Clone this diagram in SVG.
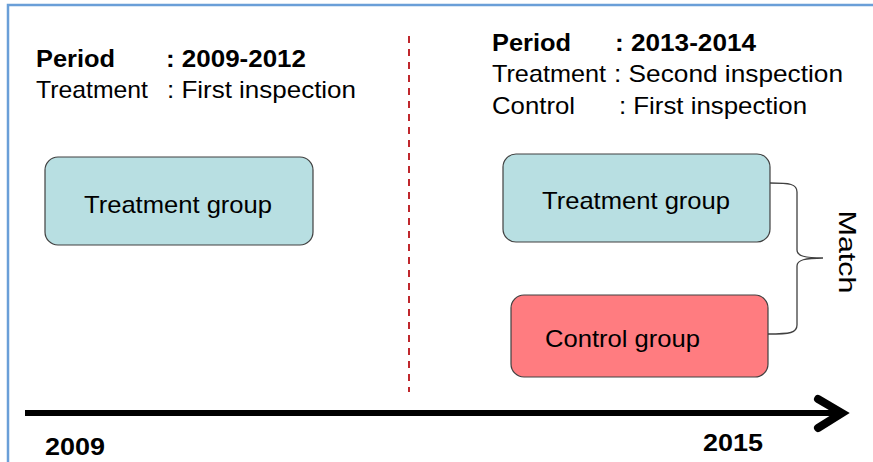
<svg xmlns="http://www.w3.org/2000/svg" width="873" height="462" viewBox="0 0 873 462">
<style>
text{font-family:"Liberation Sans",Arial,sans-serif;fill:#000}
.t{font-size:24px}
.b{font-size:24px;font-weight:bold}
.box{stroke:#404040;stroke-width:1.2}
.tg{fill:#b8dfe2}
.cg{fill:#ff7c80}
.lbl{font-size:24px}
</style>
<rect x="0" y="0" width="873" height="462" fill="#fff"/>
<g id="frame">
<path d="M8,462 V5 H873" fill="none" stroke="#6a9fd8" stroke-width="2.5"/>
</g>
<g id="left-header">
<text class="b" x="36" y="67" textLength="79" lengthAdjust="spacingAndGlyphs">Period</text>
<text class="b" x="166" y="67" textLength="140" lengthAdjust="spacingAndGlyphs">: 2009-2012</text>
<text class="t" x="36" y="98" textLength="112" lengthAdjust="spacingAndGlyphs">Treatment</text>
<text class="t" x="167" y="98" textLength="189" lengthAdjust="spacingAndGlyphs">: First inspection</text>
</g>
<g id="right-header">
<text class="b" x="492" y="51" textLength="79" lengthAdjust="spacingAndGlyphs">Period</text>
<text class="b" x="615" y="51" textLength="141" lengthAdjust="spacingAndGlyphs">: 2013-2014</text>
<text class="t" x="492" y="82" textLength="114" lengthAdjust="spacingAndGlyphs">Treatment</text>
<text class="t" x="614" y="82" textLength="229" lengthAdjust="spacingAndGlyphs">: Second inspection</text>
<text class="t" x="492" y="114" textLength="83" lengthAdjust="spacingAndGlyphs">Control</text>
<text class="t" x="619" y="114" textLength="188" lengthAdjust="spacingAndGlyphs">: First inspection</text>
</g>
<g id="connectors">
<line x1="409" y1="36" x2="409" y2="392" stroke="#c0282d" stroke-width="2" stroke-dasharray="7,6"/>
<path d="M770,183 C790,183 797,184 797,192 V250 C797,256 805,258 823,258 C805,258 797,260 797,266 V325 C797,333 790,334 768,334" fill="none" stroke="#404040" stroke-width="1.3"/>
<line x1="25" y1="413" x2="838" y2="413" stroke="#000" stroke-width="6"/>
<path d="M818,399 L842,413 L818,428" fill="none" stroke="#000" stroke-width="8" stroke-linecap="round" stroke-linejoin="miter"/>
</g>
<g id="treatment-left">
<rect class="box tg" x="45" y="157" width="268" height="88" rx="13"/>
<text class="lbl" x="178" y="213" text-anchor="middle" textLength="188" lengthAdjust="spacingAndGlyphs">Treatment  group</text>
</g>
<g id="treatment-right">
<rect class="box tg" x="503" y="154" width="267" height="88" rx="13"/>
<text class="lbl" x="636" y="209" text-anchor="middle" textLength="188" lengthAdjust="spacingAndGlyphs">Treatment  group</text>
</g>
<g id="control">
<rect class="box cg" x="511" y="295" width="257" height="82" rx="13"/>
<text class="lbl" x="545" y="347" textLength="155" lengthAdjust="spacingAndGlyphs">Control  group</text>
</g>
<g id="match">
<text class="lbl" transform="translate(839,252) rotate(90)" text-anchor="middle" textLength="83" lengthAdjust="spacingAndGlyphs">Match</text>
</g>
<g id="years">
<text class="b" x="45" y="455" textLength="60" lengthAdjust="spacingAndGlyphs">2009</text>
<text class="b" x="703" y="451" textLength="60" lengthAdjust="spacingAndGlyphs">2015</text>
</g>
</svg>
